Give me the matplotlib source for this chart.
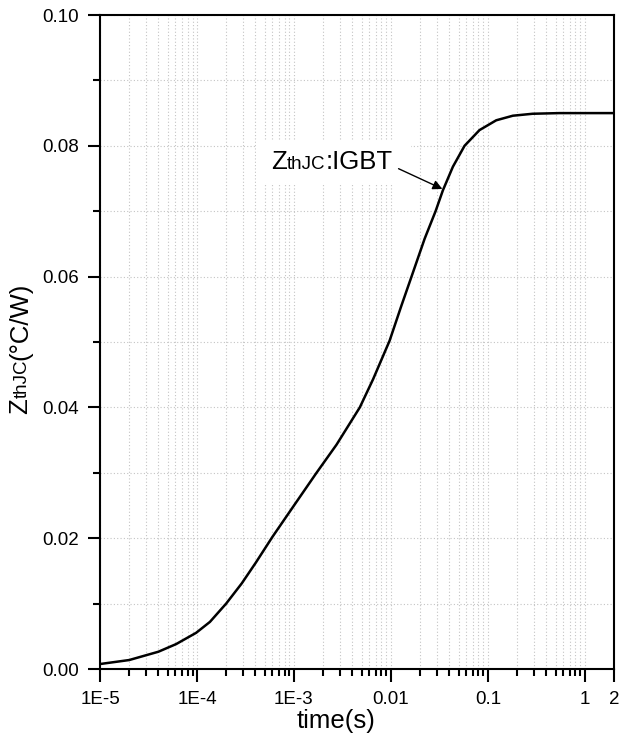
import numpy as np
import matplotlib
matplotlib.use('Agg')
import matplotlib.pyplot as plt
from matplotlib.font_manager import FontProperties
from matplotlib.patches import Rectangle

plt.rcParams['font.family'] = ['Liberation Sans', 'DejaVu Sans']

# Courbe Zth jonction-boitier de l'IGBT
time_s = [1e-5, 2e-5, 4e-5, 6.1e-5, 9.8e-5, 1.36e-4, 2e-4, 2.9e-4, 4.06e-4, 6e-4,
          9.8e-4, 1.71e-3, 2.75e-3, 4.78e-3, 6.55e-3, 9.7e-3, 1.28e-2, 1.65e-2,
          2.23e-2, 2.89e-2, 3.44e-2, 4.36e-2, 5.75e-2, 8.2e-2, 0.122, 0.181, 0.29,
          0.547, 1.0, 2.0]
zth = [0.00076, 0.00137, 0.00264, 0.00381, 0.00553, 0.0072, 0.0100, 0.0131, 0.0163, 0.0202,
       0.0248, 0.0300, 0.0343, 0.0400, 0.0443, 0.0502, 0.0555, 0.0602,
       0.0658, 0.0700, 0.0732, 0.0768, 0.0800, 0.0824, 0.0839, 0.0846, 0.0849,
       0.0850, 0.0850, 0.0850]

xticks = [1e-5, 1e-4, 1e-3, 1e-2, 1e-1, 1, 2]
xticklabels = ['1E-5', '1E-4', '1E-3', '0.01', '0.1', '1', '2']
yticks = [0.00, 0.02, 0.04, 0.06, 0.08, 0.10]

W, H = 619, 740
fig = plt.figure(figsize=(W / 100, H / 100), dpi=100)
ax = fig.add_axes([100 / W, 71 / H, 514 / W, 654 / H])

ax.plot(time_s, zth, color='black', lw=1.8, zorder=3, solid_joinstyle='round')

ax.set_xscale('log')
ax.set_xlim(1e-5, 2)
ax.set_ylim(0, 0.10)
ax.set_xticks(xticks)
ax.set_xticklabels(xticklabels)
ax.xaxis.set_minor_locator(matplotlib.ticker.LogLocator(base=10, subs=np.arange(2, 10)))
ax.xaxis.set_minor_formatter(matplotlib.ticker.NullFormatter())
ax.set_yticks(yticks)
ax.set_yticklabels(['%.2f' % v for v in yticks])
ax.yaxis.set_minor_locator(matplotlib.ticker.MultipleLocator(0.01))

ax.tick_params(which='major', direction='out', length=9, width=1.5, labelsize=13.5, pad=6)
ax.tick_params(which='minor', direction='out', length=5, width=1.5)
ax.tick_params(axis='x', pad=7)
for sp in ax.spines.values():
    sp.set_linewidth(1.5)

ax.set_axisbelow(True)
ax.grid(True, which='both', color='#c4c4c4', linestyle=(0, (1, 2)), lw=0.8)

# fond blanc derriere l'etiquette
ax.add_patch(Rectangle((4.1e-4, 0.0743), 0.016 - 4.1e-4, 0.0066, facecolor='white',
                       edgecolor='none', zorder=1.5))

fig.canvas.draw()
renderer = fig.canvas.get_renderer()


def text_width(s, size):
    return renderer.get_text_width_height_descent(
        s, FontProperties(family='Liberation Sans', size=size), ismath=False)[0]


def rich_text(x, y, parts, rotation=0):
    """Ecrit plusieurs morceaux de texte de tailles differentes a la suite (pixels)"""
    for s, size in parts:
        fig.text(x / W, y / H, s, fontsize=size, rotation=rotation,
                 rotation_mode='anchor', ha='left', va='baseline')
        if rotation == 90:
            y += text_width(s, size)
        else:
            x += text_width(s, size)


# etiquette de la courbe + fleche
x0, y0 = ax.transData.transform((5.8e-4, 0.0765))
rich_text(x0, y0, [('Z', 18.5), ('thJC', 13.5), (':IGBT', 18.5)])
ax.annotate('', xy=(3.4e-2, 0.0734), xytext=(1.2e-2, 0.0765),
            arrowprops=dict(arrowstyle='-|>', color='black', lw=1, mutation_scale=14,
                            shrinkA=0, shrinkB=0), zorder=4)

# titres des axes
ylab = [('Z', 18.5), ('thJC', 13.5), ('(°C/W)', 18.5)]
total = sum(text_width(s, sz) for s, sz in ylab)
rich_text(27, (H - 348) - total / 2, ylab, rotation=90)

fig.text(336 / W, (H - 728) / H, 'time(s)', fontsize=18.5, ha='center', va='baseline')

fig.savefig('out.png', dpi=100)
